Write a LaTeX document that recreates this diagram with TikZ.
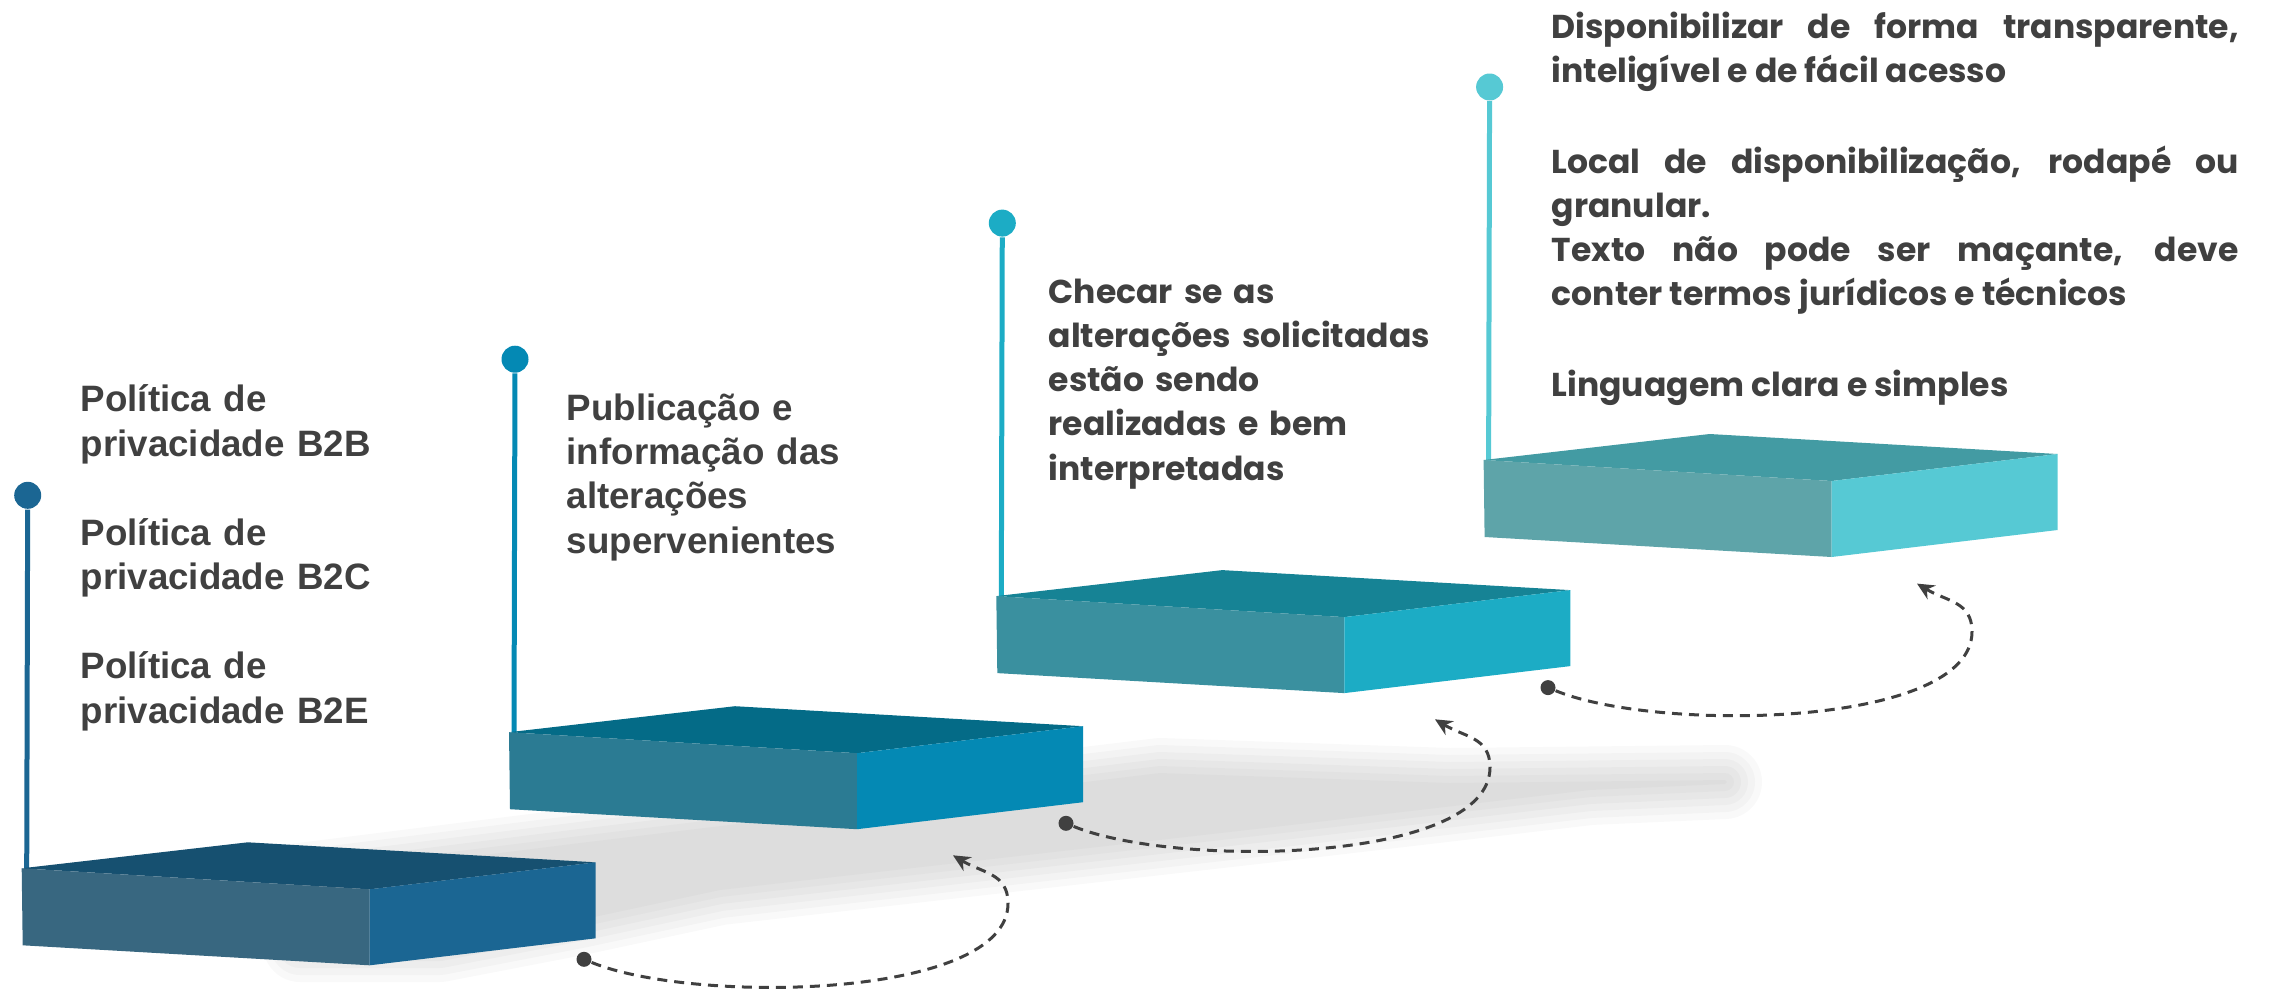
\documentclass[tikz,border=0pt]{standalone}
\usepackage{fontspec}
\setmainfont{Liberation Sans}
\newfontfamily\futura{Poppins}
\usepackage{tikz}
\usetikzlibrary{arrows.meta}
\definecolor{txtcinza}{HTML}{404040}
\definecolor{topo1}{HTML}{165070}
\definecolor{esq1}{HTML}{386780}
\definecolor{dir1}{HTML}{1B6693}
\definecolor{topo2}{HTML}{046B87}
\definecolor{esq2}{HTML}{2B7B93}
\definecolor{dir2}{HTML}{0489B4}
\definecolor{topo3}{HTML}{168395}
\definecolor{esq3}{HTML}{3A909F}
\definecolor{dir3}{HTML}{1CACC5}
\definecolor{topo4}{HTML}{439BA3}
\definecolor{esq4}{HTML}{5EA4A9}
\definecolor{dir4}{HTML}{56C9D4}
\tikzstyle{pino}=[circle, inner sep=0pt, minimum size=2.7mm]
\tikzstyle{haste}=[line width=0.5mm]
\tikzstyle{ponto}=[circle, fill=txtcinza, inner sep=0pt, minimum size=1.5mm]
\tikzstyle{seta}=[draw=txtcinza, line width=0.3mm, dash pattern=on 1mm off 0.7mm, -{Stealth[length=1.7mm, width=1.6mm, fill=txtcinza]}]
\tikzstyle{texto}=[anchor=base west, inner sep=0pt, text=txtcinza]

\begin{document}
\begin{tikzpicture}[x=0.1mm, y=-0.1mm]
	\useasboundingbox (0,0) rectangle (2270,992);
	% sombra
	\foreach \d in {2,9,16,23,30,37} {
		\begin{scope}[transparency group, opacity=0.024]
			\draw[line width=\d*0.2mm, line join=round, fill=black] (300,880) -- (580,845) -- (1160,775) -- (1450,785) -- (1725,782) -- (1590,788) -- (1300,822) -- (1010,855) -- (720,888) -- (580,918) -- (440,945) -- (300,945) -- cycle;
		\end{scope}
	}
	% degraus
	\foreach \i/\x/\y in {1/21.7/868.3, 2/509/732.2, 3/996.3/596.1, 4/1483.6/460} {
		\coordinate (lt\i) at (\x,\y);
		\coordinate (base\i) at (\x+5,\y+4);
		\node[pino, fill=dir\i] (pino\i) at (\x+6,\y-373) {};
		\draw[haste, draw=dir\i] (pino\i) -- (base\i);
		\fill[topo\i] (lt\i) -- ++(226,-26) -- ++(348,20) -- ++(-226,27) -- cycle;
		\fill[esq\i] (lt\i) -- ++(348,21) -- ++(0,76) -- ++(-347,-20) -- cycle;
		\fill[dir\i] (lt\i) ++(348,21) -- ++(226,-27) -- ++(0,76) -- ++(-226,27) -- cycle;
	}
	% setas
	\foreach \i/\x/\y in {1/584/959.3, 2/1066/823.3, 3/1548/687.6} {
		\node[ponto] (ponto\i) at (\x,\y) {};
		\coordinate (volta\i) at (\x+424,\y-56);
		\coordinate (ponta\i) at (\x+369,\y-104);
		\draw[seta] (ponto\i) .. controls +(110,45) and +(0,96) .. (volta\i) .. controls +(0,-30) and +(30,18) .. (ponta\i);
	}
	% textos
	\node[texto, text width=30mm, align=left, font=\fontsize{10.45}{12.66}\selectfont\bfseries] (txt1) at (80,411.7) {Política de\\privacidade B2B\\[12.66pt]Política de\\privacidade B2C\\[12.66pt]Política de\\privacidade B2E};
	\node[texto, text width=30mm, align=left, font=\fontsize{10.45}{12.66}\selectfont\bfseries] (txt2) at (566,420) {Publicação e\\informação das\\alterações\\supervenientes};
	\node[texto, text width=40mm, align=left, font=\futura\fontsize{9.4}{12.57}\selectfont\bfseries] (txt3) at (1048,303.3) {Checar se as\\alterações solicitadas\\estão sendo\\realizadas e bem\\interpretadas};
	\node[texto, text width=68.7mm, align=justify, font=\futura\fontsize{9.4}{12.55}\selectfont\bfseries] (txt4) at (1551,38.3) {Disponibilizar de forma transparente,\linebreak inteligível e de fácil acesso\par\vspace{13.3pt}Local de disponibilização, rodapé ou\linebreak granular.\par Texto não pode ser maçante, deve\linebreak conter termos jurídicos e técnicos\par\vspace{13.3pt}Linguagem clara e simples};
\end{tikzpicture}
\end{document}
